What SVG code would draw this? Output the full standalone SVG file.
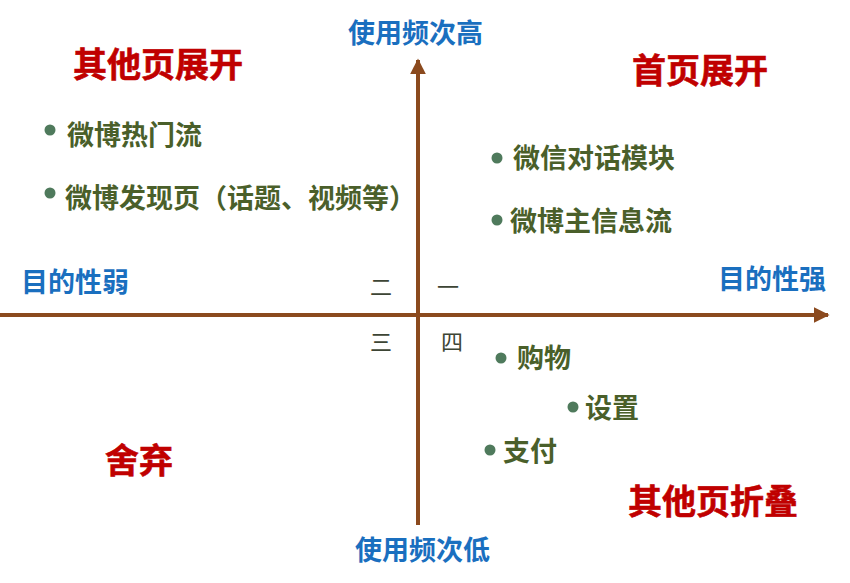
<svg xmlns="http://www.w3.org/2000/svg" width="850" height="583" viewBox="0 0 850 583">
<style>
text{font-family:"Noto Sans CJK SC","Noto Sans",sans-serif}
.title{fill:#c00000;font-size:34px;font-weight:bold;stroke:#c00000;stroke-width:0.6}
.axis-label{fill:#1a6fbf;font-size:27px;font-weight:bold}
.item{fill:#4a5f2a;font-size:27px;font-weight:bold}
.num{fill:#3d4535;font-size:22px}
.dot{fill:#4f7a5c}
.axis{stroke:#8b4a1e;stroke-width:4;fill:none}
</style>
<defs>
<marker id="arrow" viewBox="0 0 10 10" refX="9" refY="5" markerWidth="4" markerHeight="4" orient="auto" markerUnits="strokeWidth">
<path d="M0,0 L10,5 L0,10 z" fill="#8b4a1e"/>
</marker>
</defs>
<rect width="850" height="583" fill="#ffffff"/>
<g id="connectors">
<line class="axis" x1="418" y1="525" x2="418" y2="60" marker-end="url(#arrow)"/>
<line class="axis" x1="0" y1="315" x2="828" y2="315" marker-end="url(#arrow)"/>
</g>
<g id="axis-labels">
<text id="freq-high" class="axis-label" x="348" y="43">使用频次高</text>
<text id="freq-low" class="axis-label" x="355" y="560">使用频次低</text>
<text id="purpose-weak" class="axis-label" x="21" y="292">目的性弱</text>
<text id="purpose-strong" class="axis-label" x="718" y="289">目的性强</text>
</g>
<g id="quadrant-numbers">
<text class="num" x="370" y="295">二</text>
<text class="num" x="437" y="295">一</text>
<text class="num" x="370" y="350">三</text>
<text class="num" x="441" y="350">四</text>
</g>
<g id="quadrant-titles">
<text id="q2-title" class="title" x="73" y="77">其他页展开</text>
<text id="q1-title" class="title" x="632" y="83">首页展开</text>
<text id="q3-title" class="title" x="105" y="473">舍弃</text>
<text id="q4-title" class="title" x="628" y="514">其他页折叠</text>
</g>
<g id="item-weibo-hot"><circle class="dot" cx="50" cy="130" r="5.5"/><text class="item" x="67" y="145">微博热门流</text></g>
<g id="item-weibo-discover"><circle class="dot" cx="50" cy="193" r="5.5"/><text class="item" x="65" y="208">微博发现页（话题、视频等）</text></g>
<g id="item-wechat-chat"><circle class="dot" cx="497" cy="158" r="5.5"/><text class="item" x="513" y="168">微信对话模块</text></g>
<g id="item-weibo-main"><circle class="dot" cx="497" cy="220" r="5.5"/><text class="item" x="510" y="231">微博主信息流</text></g>
<g id="item-shopping"><circle class="dot" cx="501" cy="358" r="5.5"/><text class="item" x="517" y="368">购物</text></g>
<g id="item-settings"><circle class="dot" cx="573" cy="407" r="5.5"/><text class="item" x="585" y="418">设置</text></g>
<g id="item-pay"><circle class="dot" cx="490" cy="450" r="5.5"/><text class="item" x="503" y="461">支付</text></g>
</svg>
